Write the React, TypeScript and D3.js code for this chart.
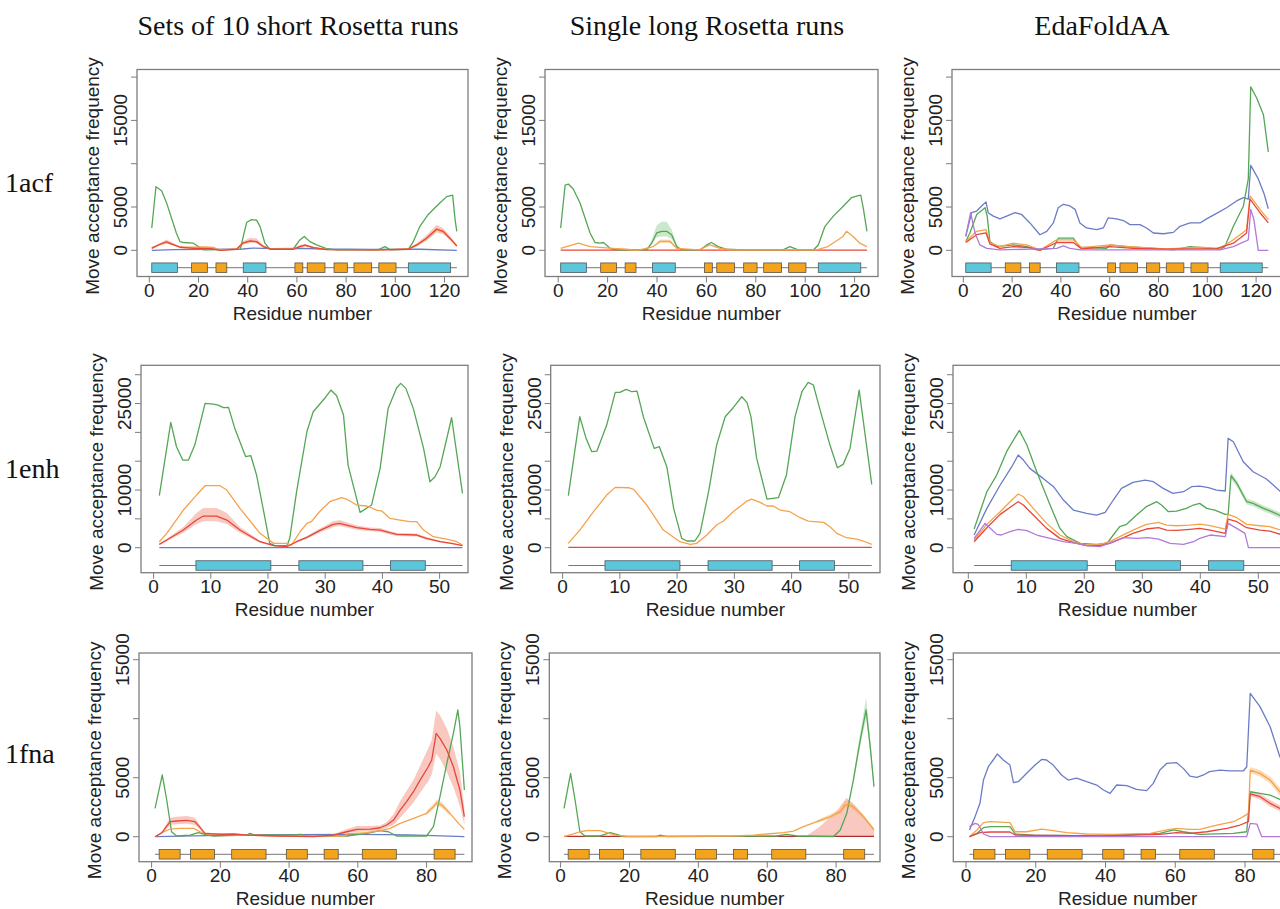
import React from 'react';
import * as d3 from 'd3';

type Pt = number[];

// ---- column / row titles ----
const colTitles = ['Sets of 10 short Rosetta runs', 'Single long Rosetta runs', 'EdaFoldAA'];
const rowNames = ['1acf', '1enh', '1fna'];

// ---- axis ticks ----
const xTicks = [[0, 20, 40, 60, 80, 100, 120], [0, 10, 20, 30, 40, 50], [0, 20, 40, 60, 80]];
const yTicks = [[0, 5000, 10000, 15000, 20000], [0, 5000, 10000, 15000, 20000, 25000, 30000], [0, 5000, 10000, 15000]];
const yTickLabels = [[0, 5000, 15000], [0, 10000, 25000], [0, 5000, 15000]];
const seqLength = [125, 54, 91];

// ---- secondary structure (residue ranges) ----
const acfHelix = [[1, 11.4], [38.2, 47.4], [105.3, 122.5]];
const acfStrand = [[17.2, 23.6], [27.1, 31.5], [59.2, 62.4], [64.2, 71.4], [75.1, 80.5], [83.2, 90.4], [93.3, 100.3]];
const enhHelix = [[7.4, 20.5], [25.4, 36.6], [41.4, 47.5]];
const enhStrand: number[][] = [];
const fnaHelix: number[][] = [];
const fnaStrand = [[2.2, 8.3], [11.3, 18.3], [23.3, 33.3], [39.2, 45.3], [50.2, 54.3], [61.3, 71.2], [82.2, 88.3]];

// ---- 1acf, sets of 10 short runs ----
const acfShortGreen = [[1, 2580], [2.7, 7340], [5, 6870], [7, 5500], [11, 2000], [12.5, 1000], [13.8, 900], [17.9, 820], [20, 430], [22, 40], [37, 100], [38.2, 1600], [39.6, 3240], [41.6, 3550], [43.6, 3480], [45, 2770], [47, 820], [49, 100], [58.5, 150], [61.2, 1200], [63, 1600], [65.3, 1000], [68, 620], [72, 200], [76, 60], [93, 60], [95.8, 430], [98, 60], [105.3, 100], [107.3, 1000], [110, 2770], [113.4, 4140], [118.2, 5500], [120.9, 6200], [122.2, 6290], [123.3, 6370], [124.3, 3550], [125, 2190]];
const acfShortOrange = [[1, 300], [4.3, 650], [7, 900], [9, 700], [12.5, 400], [18, 350], [22, 400], [26, 330], [28.7, 50], [35.5, 150], [38, 800], [41, 1050], [43.6, 1000], [46.3, 450], [49.7, 150], [58.5, 150], [61.2, 450], [63.3, 560], [66.7, 330], [72, 100], [93.8, 60], [105.3, 150], [108.7, 600], [112.7, 1350], [116.8, 2350], [119.5, 2100], [122.2, 1350], [125, 500]];
const acfShortRed = [[1, 230], [4.3, 700], [7, 980], [9, 740], [12.5, 350], [18, 230], [24.7, 230], [28.7, 0], [35.5, 120], [38, 820], [41, 1090], [43.6, 1000], [46.3, 430], [49.7, 120], [58.5, 120], [61.2, 430], [63.3, 590], [66.7, 310], [72, 80], [93.8, 40], [105.3, 120], [108.7, 620], [112.7, 1400], [116.8, 2460], [119.5, 2190], [122.2, 1400], [125, 510]];
const acfShortRedBand = [[1, 150, 300], [4.3, 550, 850], [7, 800, 1250], [9, 600, 950], [12.5, 250, 450], [18, 150, 320], [24.7, 150, 320], [28.7, 0, 80], [35.5, 60, 200], [38, 650, 1050], [41, 850, 1450], [43.6, 800, 1350], [46.3, 300, 600], [49.7, 60, 200], [58.5, 60, 200], [61.2, 300, 600], [63.3, 450, 750], [66.7, 220, 420], [72, 20, 150], [93.8, 0, 100], [105.3, 60, 200], [108.7, 450, 800], [112.7, 1100, 1750], [116.8, 2050, 2950], [119.5, 1850, 2550], [122.2, 1150, 1650], [125, 380, 640]];
const acfShortBlue = [[1, 0], [10, 80], [25, 100], [38, 150], [42, 250], [50, 200], [62, 230], [70, 150], [90, 100], [110, 120], [125, 0]];

// ---- 1acf, single long runs ----
const acfLongGreen = [[1, 2580], [2.8, 7540], [4.1, 7650], [6.1, 7070], [8.8, 5500], [12.9, 2000], [14.9, 900], [16.9, 820], [18.3, 900], [21, 230], [23, 40], [35.8, 40], [37.8, 820], [39.9, 2000], [41.9, 2190], [43.9, 2190], [45.9, 1800], [48, 430], [50, 40], [57.4, 40], [60.1, 620], [62, 900], [64.8, 430], [68.2, 120], [75, 40], [91, 40], [93.8, 430], [97.2, 40], [103.3, 40], [105.3, 620], [108, 2770], [111.4, 3950], [115.5, 5120], [118.8, 6090], [121.1, 6290], [122.5, 6370], [123.6, 4730], [125, 2190]];
const acfLongGreenBand = [[36, 0, 80], [37.8, 600, 1100], [39.9, 1500, 2900], [41.9, 1600, 3300], [43.9, 1600, 3300], [45.9, 1300, 2400], [48, 300, 600], [50, 0, 100]];
const acfLongOrange = [[1, 230], [8.2, 820], [12.9, 430], [22, 230], [27.7, 120], [32, 0], [38.5, 430], [41.2, 1020], [45.3, 1020], [48, 230], [57, 40], [61.4, 620], [65.5, 230], [70, 60], [104.6, 40], [109.2, 430], [115.3, 1600], [116.7, 2190], [119.4, 1600], [122.1, 820], [125, 430]];
const acfLongOrangeBand = [[38.5, 380, 500], [41.2, 850, 1250], [45.3, 850, 1250], [48, 180, 300]];
const acfLongRed = [[1, 20], [125, 20]];

// ---- 1acf, EdaFoldAA ----
const acfEdaBlue = [[1, 1600], [3.4, 4340], [5.5, 4530], [7.5, 5120], [9.3, 5590], [10.2, 4340], [12.3, 3950], [15, 3630], [17.8, 3950], [21.2, 4340], [23.9, 4140], [27.3, 3160], [31.4, 1800], [34.2, 2190], [36.9, 3160], [38.9, 4920], [41, 5310], [43.7, 5120], [45.8, 4730], [47.8, 3160], [50.5, 2580], [54.6, 2380], [57.4, 2580], [59.4, 3750], [62.8, 3630], [65.6, 3440], [68.3, 2970], [72.4, 2970], [75.1, 2580], [77.9, 2000], [82, 1910], [86.1, 2070], [88.8, 2770], [92.9, 3160], [97, 3160], [99.7, 3630], [103.8, 4260], [107.9, 4920], [112, 5700], [114.8, 6090], [116.8, 5900], [117.8, 9800], [120.9, 8240], [123.3, 6500], [125, 4800]];
const acfEdaGreen = [[1, 1020], [2.7, 2000], [5.5, 4140], [8.9, 4920], [9.8, 3950], [10.9, 1020], [13.7, 430], [20.5, 620], [26, 430], [30, 40], [36.9, 230], [38.9, 1400], [45.1, 1400], [47.8, 350], [58.7, 230], [60.1, 620], [66.9, 430], [77.9, 230], [86.1, 40], [92.9, 430], [105.2, 120], [107.2, 430], [110.7, 2770], [114.8, 5120], [116.8, 8240], [117.8, 18870], [120.2, 17620], [123, 15660], [125, 11370]];
const acfEdaOrange = [[1, 1020], [5.5, 2190], [9.3, 2380], [10.9, 900], [15, 430], [20.5, 820], [26, 620], [31.4, 40], [38.3, 1210], [45.1, 1210], [48.5, 310], [60.1, 620], [68.3, 430], [83.3, 160], [97, 350], [105.2, 230], [110.7, 1210], [116.1, 2380], [117.5, 6290], [121.6, 4730], [125, 3550]];
const acfEdaRed = [[1, 900], [5.5, 1800], [9.3, 2000], [10.9, 740], [15, 230], [20.5, 430], [27.3, 310], [31.4, 0], [38.3, 900], [45.1, 900], [48.5, 160], [60.1, 430], [69.7, 230], [83.3, 120], [103.8, 200], [110.7, 820], [116.1, 2000], [117.5, 5900], [121.6, 4340], [125, 3160]];
const acfEdaPurple = [[1, 1600], [3, 4340], [4.8, 2000], [6.8, 620], [9.6, 230], [15, 40], [38.3, 230], [41, 510], [43.7, 230], [48, 50], [105.2, 50], [110.7, 430], [115.4, 1020], [116.8, 1210], [117.8, 4730], [119.1, 3550], [120.9, 0], [125, 0]];

// ---- 1enh, sets of 10 short runs ----
const enhShortGreen = [[1, 9020], [3, 21730], [4, 17510], [5.1, 15200], [6.1, 15200], [7.2, 17800], [9, 25030], [10.4, 24910], [11.3, 24740], [12.2, 24280], [13.1, 24330], [14.2, 20690], [16.1, 15780], [17, 15950], [18, 12600], [19.2, 6530], [20.3, 750], [21.2, 350], [23.3, 350], [23.8, 1620], [25, 9710], [26.8, 20110], [27.9, 23580], [30, 26010], [31, 27340], [32, 26360], [33.2, 23000], [34, 14330], [36.1, 6130], [38.1, 7400], [39.6, 13760], [41, 24160], [42.5, 27740], [43.2, 28500], [44.1, 27630], [45.4, 24160], [47.2, 17220], [48.3, 11440], [49.2, 12310], [50.1, 14050], [52.1, 22540], [54, 9420]];
const enhShortOrange = [[1, 1040], [2.3, 2490], [5.2, 6530], [7.5, 9130], [9, 10750], [11.6, 10750], [12.8, 10000], [15.1, 6820], [18.6, 2490], [21, 750], [23.3, 750], [24.1, 460], [25.6, 2770], [26.8, 4220], [27.6, 4510], [29, 6240], [30.8, 7980], [32.9, 8670], [33.7, 8440], [35.5, 7400], [37.3, 7230], [39, 6530], [39.9, 6360], [41.3, 5090], [43.1, 4800], [44.8, 4510], [46, 4510], [47.2, 3060], [48.9, 1910], [51.2, 1500], [53, 1040], [54, 460]];
const enhShortRed = [[1, 580], [2.3, 1330], [5.2, 3060], [7.5, 4800], [8.7, 5490], [11, 5490], [12.8, 4800], [15.1, 3060], [18.6, 1040], [21, 350], [23.3, 170], [25, 1040], [26.8, 1790], [29, 2950], [31.4, 4050], [32.5, 4220], [33.7, 3930], [35.5, 3470], [37.8, 3180], [39.6, 3060], [41.3, 2600], [42.5, 2310], [46, 2200], [47.7, 1620], [50.1, 1040], [52.1, 750], [54, 350]];
const enhShortRedBand = [[1, 450, 700], [2.3, 1100, 1550], [5.2, 2600, 3600], [7.5, 4100, 6000], [8.7, 4600, 6900], [11, 4600, 6900], [12.8, 4100, 6000], [15.1, 2600, 3600], [18.6, 850, 1250], [21, 250, 450], [23.3, 100, 250], [25, 850, 1250], [26.8, 1550, 2050], [29, 2600, 3300], [31.4, 3600, 4600], [32.5, 3750, 4800], [33.7, 3500, 4400], [35.5, 3100, 3850], [37.8, 2850, 3500], [39.6, 2750, 3400], [41.3, 2300, 2900], [42.5, 2050, 2600], [46, 1950, 2450], [47.7, 1400, 1850], [50.1, 900, 1200], [52.1, 620, 880], [54, 280, 420]];
const enhShortBlue = [[1, 30], [54, 30]];

// ---- 1enh, single long runs ----
const enhLongGreen = [[1, 9020], [3, 22720], [4.1, 18960], [5.1, 16650], [6, 16760], [7.7, 21270], [9.2, 26930], [10, 26930], [11.1, 27460], [12.1, 27050], [13, 27170], [14.1, 22720], [16, 17220], [16.9, 17510], [18.2, 14050], [19.4, 6820], [20.8, 1620], [21.7, 1160], [23.1, 1160], [24, 2490], [25.5, 9710], [26.9, 17800], [28.4, 22720], [29.8, 24280], [31.3, 26180], [32.2, 25200], [32.9, 22720], [33.9, 15490], [35.7, 8440], [37.7, 8670], [39.1, 12600], [40.6, 22720], [41.8, 27050], [42.9, 28670], [43.8, 28210], [44.9, 24160], [46.7, 17800], [48, 13870], [49, 14450], [50.2, 17220], [51.8, 27340], [54, 10980]];
const enhLongOrange = [[1, 750], [3, 3060], [5.4, 6240], [7.7, 9130], [9.2, 10460], [11.5, 10400], [12.4, 10120], [14.7, 7400], [17.6, 3060], [20.5, 1040], [22.3, 580], [23.4, 750], [25.2, 2200], [26.9, 3930], [28.1, 4620], [29.8, 6240], [32.2, 8090], [33, 8440], [34.5, 7860], [35.7, 7230], [36.8, 7230], [38, 6530], [39.7, 6240], [41.5, 5200], [42.9, 4620], [45.6, 4390], [46.7, 3640], [47.9, 2490], [49.6, 1730], [51.4, 1500], [52.5, 1160], [54, 580]];
const enhLongRed = [[1, 40], [54, 40]];

// ---- 1enh, EdaFoldAA ----
const enhEdaBlue = [[1, 2200], [3.2, 6820], [5.5, 10870], [7.5, 14050], [8.6, 16070], [9.5, 15200], [10.6, 13760], [12.9, 12020], [14.7, 10580], [16.4, 8270], [18.1, 6530], [20.4, 5950], [22.1, 5660], [23.6, 6130], [25, 8270], [26.4, 10290], [28.4, 11330], [30.5, 11730], [31.9, 11440], [33.6, 10290], [35.3, 9420], [37.1, 9710], [38.5, 10580], [39.9, 10690], [41.4, 10400], [42.8, 10000], [44.3, 9830], [44.8, 18960], [45.7, 18380], [47.4, 14910], [49.1, 13180], [51.4, 11910], [54, 9600]];
const enhEdaGreen = [[1, 3240], [3.2, 9710], [4.9, 12600], [6.6, 16650], [8.8, 20350], [10.1, 17800], [11.8, 13180], [14.1, 7400], [15.8, 3350], [17, 1910], [19.3, 750], [22.1, 580], [23.9, 750], [25, 2200], [26.1, 3640], [27.3, 4050], [29, 5660], [30.7, 7110], [32.5, 7980], [33.3, 7400], [34.5, 6240], [35.9, 6360], [37.6, 6820], [38.8, 7400], [39.9, 7690], [41.1, 6820], [42.5, 6530], [44.3, 5780], [44.8, 5780], [45.3, 12480], [46.3, 11150], [48, 7980], [49.1, 7690], [50.9, 6820], [52.3, 6240], [54, 5500]];
const enhEdaGreenBand = [[44.8, 5500, 6100], [45.3, 11900, 13100], [46.3, 10600, 11700], [48, 7500, 8500], [49.1, 7200, 8200], [50.9, 6300, 7300], [52.3, 5750, 6750], [54, 5000, 6000]];
const enhEdaOrange = [[1, 1330], [3.2, 4050], [5.5, 6240], [7.2, 7980], [8.6, 9310], [9.5, 8840], [11.2, 6820], [13.5, 4220], [15.8, 2200], [18.1, 1040], [20.4, 460], [22.7, 580], [24.4, 1040], [26.1, 1910], [28.4, 3060], [30.7, 4050], [32.8, 4390], [34.2, 3930], [35.9, 3810], [38.2, 3930], [39.9, 4100], [41.7, 3810], [44.3, 3240], [44.8, 5780], [46.3, 5200], [48, 4050], [50.3, 3810], [52, 3640], [54, 3000]];
const enhEdaRed = [[1, 1040], [3.2, 3470], [5.5, 5780], [8.6, 7980], [9.5, 7400], [11.2, 5660], [13.5, 3350], [15.8, 1620], [18.1, 870], [20.4, 350], [22.7, 350], [24.4, 750], [26.1, 1450], [28.4, 2490], [30.7, 3240], [32.8, 3470], [34.2, 3060], [35.9, 3000], [38.2, 3180], [39.9, 3350], [41.7, 3060], [44.3, 2490], [44.8, 4970], [46.3, 4510], [48, 3470], [50.3, 3060], [52, 2890], [54, 2250]];
const enhEdaPurple = [[1, 1620], [2.9, 4220], [3.7, 3470], [4.9, 2310], [5.7, 2200], [7.2, 2770], [8.6, 3180], [10.1, 2950], [11.8, 2200], [14.1, 1620], [16.4, 1040], [18.7, 750], [20.4, 350], [22.7, 170], [25, 1040], [26.7, 1730], [29, 1620], [31, 1730], [32.8, 1500], [34.8, 750], [37.1, 580], [38.8, 1040], [39.9, 1620], [41.7, 2200], [44.3, 1910], [44.8, 4220], [46.3, 3350], [47.7, 2490], [48.3, 0], [54, 0]];

// ---- 1fna, sets of 10 short runs ----
const fnaShortGreen = [[1, 2400], [3.1, 5230], [4.4, 3110], [5.8, 420], [7.3, 60], [11.2, 140], [13.6, 340], [15.5, 200], [18, 60], [27.7, 140], [28.6, 280], [30.1, 140], [41.3, 140], [43.2, 200], [45.1, 60], [56.8, 60], [62.6, 280], [66.5, 510], [68.9, 420], [71.3, 60], [80, 60], [82, 850], [83.9, 3390], [85.9, 6220], [87.8, 8760], [89.1, 10740], [89.7, 9320], [91, 3960]];
const fnaShortOrange = [[1, 0], [3, 340], [5.4, 650], [8.3, 710], [12.2, 710], [14.1, 420], [16, 230], [19.9, 230], [25.7, 140], [37.4, 60], [56, 60], [56.8, 230], [62.6, 340], [66.5, 510], [69.4, 710], [72.3, 1130], [76.2, 1550], [80, 1980], [82, 2540], [83, 2880], [84.4, 2680], [86.8, 1980], [89.3, 1130], [91, 620]];
const fnaShortOrangeBand = [[80, 1800, 2200], [82, 2350, 2800], [83, 2650, 3150], [84.4, 2450, 2950], [86.8, 1800, 2150]];
const fnaShortRed = [[1, 0], [3, 340], [5.4, 1270], [7.3, 1330], [10.2, 1380], [12.6, 1270], [13.9, 850], [15.5, 280], [19.9, 200], [23.8, 230], [27.7, 140], [37.4, 60], [47.1, 0], [52.9, 140], [56.8, 420], [59.7, 620], [63.6, 650], [66.5, 760], [68.4, 990], [70.4, 1410], [72.3, 2260], [74.2, 2970], [76.2, 3810], [78.1, 4800], [80.5, 5930], [81.5, 6500], [82.8, 8760], [83.9, 8330], [85.9, 7350], [87.8, 5930], [89.7, 3960], [91, 1700]];
const fnaShortRedBand = [[1, 0, 0], [3, 250, 450], [5.4, 1000, 1600], [7.3, 1050, 1700], [10.2, 1100, 1750], [12.6, 1000, 1600], [13.9, 650, 1050], [15.5, 200, 380], [19.9, 150, 260], [23.8, 170, 300], [27.7, 80, 200], [37.4, 0, 100], [47.1, 0, 50], [52.9, 80, 200], [56.8, 300, 650], [59.7, 420, 900], [63.6, 450, 900], [66.5, 550, 950], [68.4, 750, 1250], [70.4, 1000, 1900], [72.3, 1600, 3000], [74.2, 2200, 3900], [76.2, 2900, 4800], [78.1, 3700, 6000], [80.5, 4700, 7500], [81.5, 5300, 8200], [82.8, 7000, 10700], [83.9, 6600, 10300], [85.9, 5500, 9200], [87.8, 4200, 7600], [89.7, 2600, 5500], [91, 1000, 2500]];
const fnaShortBlue = [[1, 0], [20, 120], [40, 180], [60, 200], [75, 150], [91, 0]];

// ---- 1fna, single long runs ----
const fnaLongGreen = [[1, 2400], [2.9, 5370], [4.2, 3110], [5.6, 420], [7.1, 60], [11.5, 60], [14.4, 340], [16.3, 200], [18.2, 0], [27.9, 0], [28.9, 140], [30.8, 0], [62.8, 60], [65.7, 200], [68.6, 60], [79.2, 0], [81.2, 570], [83.1, 1980], [85, 4800], [87, 8190], [88.7, 10740], [89.9, 7630], [91, 4240]];
const fnaLongGreenBand = [[85, 4500, 5100], [87, 7700, 8800], [88.7, 10000, 11800], [89.9, 7100, 8300], [91, 3900, 4600]];
const fnaLongOrange = [[1, 0], [3.7, 230], [5.6, 420], [7.6, 510], [11.5, 510], [13.4, 340], [15.8, 140], [20, 0], [50.2, 60], [56, 140], [59.9, 230], [64.7, 340], [67.6, 480], [70.5, 850], [74.4, 1270], [78.3, 1700], [81.2, 2120], [82.6, 2680], [83.6, 2770], [85.5, 2400], [87.9, 1700], [89.9, 990], [91, 570]];
const fnaLongOrangeBand = [[74.4, 1150, 1400], [78.3, 1550, 1900], [81.2, 1950, 2400], [82.6, 2450, 3000], [83.6, 2550, 3100], [85.5, 2200, 2650], [87.9, 1550, 1900], [91, 480, 680]];
const fnaLongRed = [[1, 20], [91, 20]];
const fnaLongRedBand = [[71, 0, 0], [75, 0, 800], [80, 0, 2100], [83, 0, 3300], [85, 0, 2800], [88, 0, 1800], [91, 0, 700]];

// ---- 1fna, EdaFoldAA ----
const fnaEdaBlue = [[1, 570], [2.6, 1700], [4, 2830], [5, 4800], [6.4, 5930], [7.8, 6500], [9, 7010], [10.7, 6500], [12.6, 6070], [13.6, 4580], [15, 4660], [17.4, 5370], [19.8, 6070], [21.7, 6550], [23.1, 6500], [25, 6070], [27.4, 5230], [29.3, 4800], [31.7, 4970], [34.6, 4660], [37.5, 4380], [39.4, 3960], [41.3, 3670], [43.2, 4380], [46.1, 4320], [48.9, 4010], [51.8, 3900], [53.7, 4520], [55.6, 5650], [57.6, 6220], [60.4, 6270], [62.3, 5790], [64.2, 5140], [66.2, 5030], [68.1, 5230], [69.8, 5510], [72.8, 5650], [75.7, 5570], [79.5, 5570], [80.5, 5930], [81.5, 12150], [84.3, 11020], [87.2, 9320], [90, 6780], [91, 6200]];
const fnaEdaOrange = [[1, 0], [3.1, 570], [5, 1190], [6.9, 1270], [12.6, 1190], [14.1, 420], [17.4, 420], [21.7, 650], [25, 510], [28.9, 340], [34.6, 230], [42.3, 200], [52.8, 280], [57.6, 570], [60.4, 710], [64.2, 620], [67.1, 620], [71.9, 990], [76.7, 1270], [79.5, 1700], [81, 1980], [81.5, 5650], [84.3, 5370], [87.2, 4800], [90, 3810], [91, 3500]];
const fnaEdaOrangeBand = [[81.5, 5400, 5900], [84.3, 5100, 5650], [87.2, 4500, 5100], [90, 3500, 4150], [91, 3200, 3850]];
const fnaEdaGreen = [[1, 0], [3.1, 280], [5, 760], [6.9, 850], [12.6, 850], [14.1, 230], [19.3, 140], [38.4, 60], [55.6, 280], [59.5, 570], [62.3, 420], [67.1, 200], [76.7, 280], [80.5, 420], [81.5, 3810], [84.3, 3670], [87.2, 3530], [90, 3160], [91, 3050]];
const fnaEdaRed = [[1, 0], [4, 340], [6.9, 400], [12.6, 400], [14.1, 140], [38.4, 60], [55.6, 200], [60.4, 340], [64.2, 280], [69, 420], [74.8, 710], [78.6, 990], [81, 1270], [81.5, 3620], [84.3, 3390], [87.2, 2830], [90, 2400], [91, 2300]];
const fnaEdaRedBand = [[81.5, 3450, 3800], [84.3, 3150, 3650], [87.2, 2550, 3100], [90, 2150, 2650], [91, 2050, 2550]];
const fnaEdaPurple = [[1, 850], [2.6, 1130], [3.5, 1050], [5, 230], [6.9, 0], [80.5, 0], [81.5, 1130], [83.4, 1070], [84.8, 0], [91, 0]];

// ---- colours ----
const C = {
  green: '#55a655',
  orange: '#f6a24a',
  red: '#e6473a',
  blue: '#6b7cc6',
  purple: '#b27ad8',
  greenBand: 'rgba(110,190,110,0.35)',
  orangeBand: 'rgba(250,180,100,0.45)',
  redBand: 'rgba(240,120,100,0.4)',
  helix: '#5bc6dc',
  strand: '#f4a41c',
  frame: '#7d7d7d',
};

// ---- layout (pixels) ----
const ROWS = [
  {top: 69.5, bottom: 276.5, zeroY: 250.3, pxPerK: 8.66, labelY: 192, ssY: 267.7},
  {top: 365.3, bottom: 572.7, zeroY: 547.7, pxPerK: 5.766, labelY: 478, ssY: 565.5},
  {top: 653, bottom: 861.7, zeroY: 836.7, pxPerK: 11.8, labelY: 763, ssY: 854.3},
];
const BOXES = [
  [{left: 137, right: 468, zeroX: 149.3, ppu: 2.46}, {left: 545, right: 878, zeroX: 558.2, ppu: 2.47}, {left: 952, right: 1300, zeroX: 963.3, ppu: 2.44}],
  [{left: 141, right: 468, zeroX: 153.6, ppu: 5.72}, {left: 550.7, right: 880, zeroX: 562.6, ppu: 5.725}, {left: 953, right: 1300, zeroX: 968.3, ppu: 5.8}],
  [{left: 139, right: 472, zeroX: 151.6, ppu: 3.437}, {left: 549.3, right: 880, zeroX: 560.6, ppu: 3.444}, {left: 953.3, right: 1300, zeroX: 966, ppu: 3.4875}],
];
const COL_TITLE_X = [298, 707, 1102];

type Panel = {
  lines: {data: Pt[]; color: string}[];
  bands: {data: Pt[]; color: string}[];
  helix: number[][];
  strand: number[][];
};

const PANELS: Panel[][] = [
  [
    {
      bands: [{data: acfShortRedBand, color: C.redBand}],
      lines: [{data: acfShortBlue, color: C.blue}, {data: acfShortGreen, color: C.green}, {data: acfShortOrange, color: C.orange}, {data: acfShortRed, color: C.red}],
      helix: acfHelix, strand: acfStrand,
    },
    {
      bands: [{data: acfLongGreenBand, color: C.greenBand}, {data: acfLongOrangeBand, color: C.orangeBand}],
      lines: [{data: acfLongRed, color: C.red}, {data: acfLongGreen, color: C.green}, {data: acfLongOrange, color: C.orange}],
      helix: acfHelix, strand: acfStrand,
    },
    {
      bands: [],
      lines: [{data: acfEdaBlue, color: C.blue}, {data: acfEdaGreen, color: C.green}, {data: acfEdaOrange, color: C.orange}, {data: acfEdaRed, color: C.red}, {data: acfEdaPurple, color: C.purple}],
      helix: acfHelix, strand: acfStrand,
    },
  ],
  [
    {
      bands: [{data: enhShortRedBand, color: C.redBand}],
      lines: [{data: enhShortBlue, color: C.blue}, {data: enhShortGreen, color: C.green}, {data: enhShortOrange, color: C.orange}, {data: enhShortRed, color: C.red}],
      helix: enhHelix, strand: enhStrand,
    },
    {
      bands: [],
      lines: [{data: enhLongRed, color: C.red}, {data: enhLongGreen, color: C.green}, {data: enhLongOrange, color: C.orange}],
      helix: enhHelix, strand: enhStrand,
    },
    {
      bands: [{data: enhEdaGreenBand, color: C.greenBand}],
      lines: [{data: enhEdaBlue, color: C.blue}, {data: enhEdaGreen, color: C.green}, {data: enhEdaOrange, color: C.orange}, {data: enhEdaRed, color: C.red}, {data: enhEdaPurple, color: C.purple}],
      helix: enhHelix, strand: enhStrand,
    },
  ],
  [
    {
      bands: [{data: fnaShortRedBand, color: C.redBand}, {data: fnaShortOrangeBand, color: C.orangeBand}],
      lines: [{data: fnaShortBlue, color: C.blue}, {data: fnaShortGreen, color: C.green}, {data: fnaShortOrange, color: C.orange}, {data: fnaShortRed, color: C.red}],
      helix: fnaHelix, strand: fnaStrand,
    },
    {
      bands: [{data: fnaLongRedBand, color: C.redBand}, {data: fnaLongOrangeBand, color: C.orangeBand}, {data: fnaLongGreenBand, color: C.greenBand}],
      lines: [{data: fnaLongRed, color: '#b03030'}, {data: fnaLongGreen, color: C.green}, {data: fnaLongOrange, color: C.orange}],
      helix: fnaHelix, strand: fnaStrand,
    },
    {
      bands: [{data: fnaEdaOrangeBand, color: C.orangeBand}, {data: fnaEdaRedBand, color: C.redBand}],
      lines: [{data: fnaEdaBlue, color: C.blue}, {data: fnaEdaGreen, color: C.green}, {data: fnaEdaOrange, color: C.orange}, {data: fnaEdaRed, color: C.red}, {data: fnaEdaPurple, color: C.purple}],
      helix: fnaHelix, strand: fnaStrand,
    },
  ],
];

const SANS = '"Liberation Sans", Arial, Helvetica, sans-serif';
const SERIF = '"Liberation Serif", "Times New Roman", Times, serif';

const PanelView = ({r, c}: {r: number; c: number}) => {
  const row = ROWS[r];
  const box = BOXES[r][c];
  const panel = PANELS[r][c];

  const x = d3.scaleLinear()
    .domain([(box.left - box.zeroX) / box.ppu, (box.right - box.zeroX) / box.ppu])
    .range([box.left, box.right]);
  const y = d3.scaleLinear()
    .domain([(row.zeroY - row.bottom) / row.pxPerK * 1000, (row.zeroY - row.top) / row.pxPerK * 1000])
    .range([row.bottom, row.top]);

  const line = d3.line<Pt>().x(d => x(d[0])).y(d => y(d[1]));
  const area = d3.area<Pt>().x(d => x(d[0])).y0(d => y(d[1])).y1(d => y(d[2]));

  const clipId = `clip-${r}-${c}`;
  const ssH = 9.5;
  const midY = (row.top + row.bottom) / 2 + 3;

  return (
    <g>
      <defs>
        <clipPath id={clipId}>
          <rect x={box.left} y={row.top} width={Math.min(box.right, 1280) - box.left} height={row.bottom - row.top} />
        </clipPath>
      </defs>

      {/* secondary structure strip */}
      <line x1={x(1)} x2={x(seqLength[r])} y1={row.ssY} y2={row.ssY} stroke="#777" strokeWidth={1} />
      {panel.helix.map((s, i) => (
        <rect key={'h' + i} x={x(s[0])} y={row.ssY - ssH / 2} width={x(s[1]) - x(s[0])} height={ssH}
              fill={C.helix} stroke="#4a5a5e" strokeWidth={0.8} />
      ))}
      {panel.strand.map((s, i) => (
        <rect key={'s' + i} x={x(s[0])} y={row.ssY - ssH / 2} width={x(s[1]) - x(s[0])} height={ssH}
              fill={C.strand} stroke="#5e5240" strokeWidth={0.8} />
      ))}

      <g clipPath={`url(#${clipId})`}>
        {panel.bands.map((b, i) => (
          <path key={'b' + i} d={area(b.data) || ''} fill={b.color} stroke="none" />
        ))}
        {panel.lines.map((l, i) => (
          <path key={'l' + i} d={line(l.data) || ''} fill="none" stroke={l.color} strokeWidth={1.3}
                strokeLinejoin="round" />
        ))}
      </g>

      {/* frame */}
      <rect x={box.left} y={row.top} width={box.right - box.left} height={row.bottom - row.top}
            fill="none" stroke={C.frame} strokeWidth={1.3} />

      {/* y axis */}
      {yTicks[r].map(t => (
        <line key={'yt' + t} x1={box.left - 6} x2={box.left} y1={y(t)} y2={y(t)} stroke={C.frame} strokeWidth={1} />
      ))}
      {yTickLabels[r].map(t => (
        <text key={'yl' + t} transform={`translate(${box.left - 10},${y(t)}) rotate(-90)`}
              textAnchor="middle" fontFamily={SANS} fontSize={19} fill="#222">{t}</text>
      ))}
      <text transform={`translate(${box.left - 38},${midY}) rotate(-90)`} textAnchor="middle"
            fontFamily={SANS} fontSize={19} fill="#222">Move acceptance frequency</text>

      {/* x axis */}
      {xTicks[r].map(t => (
        <g key={'xt' + t}>
          <line x1={x(t)} x2={x(t)} y1={row.bottom} y2={row.bottom + 6} stroke={C.frame} strokeWidth={1} />
          <text x={x(t)} y={row.bottom + 20} textAnchor="middle" fontFamily={SANS} fontSize={19} fill="#222">{t}</text>
        </g>
      ))}
      <text x={(box.left + Math.min(box.right, 1278)) / 2 + (c === 2 ? 12 : 0)} y={row.bottom + 43} textAnchor="middle"
            fontFamily={SANS} fontSize={19} fill="#222">Residue number</text>
    </g>
  );
};

const App = () => {
  return (
    <svg width={1280} height={909} style={{position: 'absolute', left: 0, top: 0, background: '#fff'}}>
      <rect width={1280} height={909} fill="#fff" />
      {colTitles.map((t, i) => (
        <text key={t} x={COL_TITLE_X[i]} y={35} textAnchor="middle" fontFamily={SERIF} fontSize={28} fill="#111">{t}</text>
      ))}
      {rowNames.map((n, i) => (
        <text key={n} x={5} y={ROWS[i].labelY} fontFamily={SERIF} fontSize={28} fill="#111">{n}</text>
      ))}
      {ROWS.map((_, r) => [0, 1, 2].map(c => <PanelView key={`${r}-${c}`} r={r} c={c} />))}
    </svg>
  );
};

export default App;
